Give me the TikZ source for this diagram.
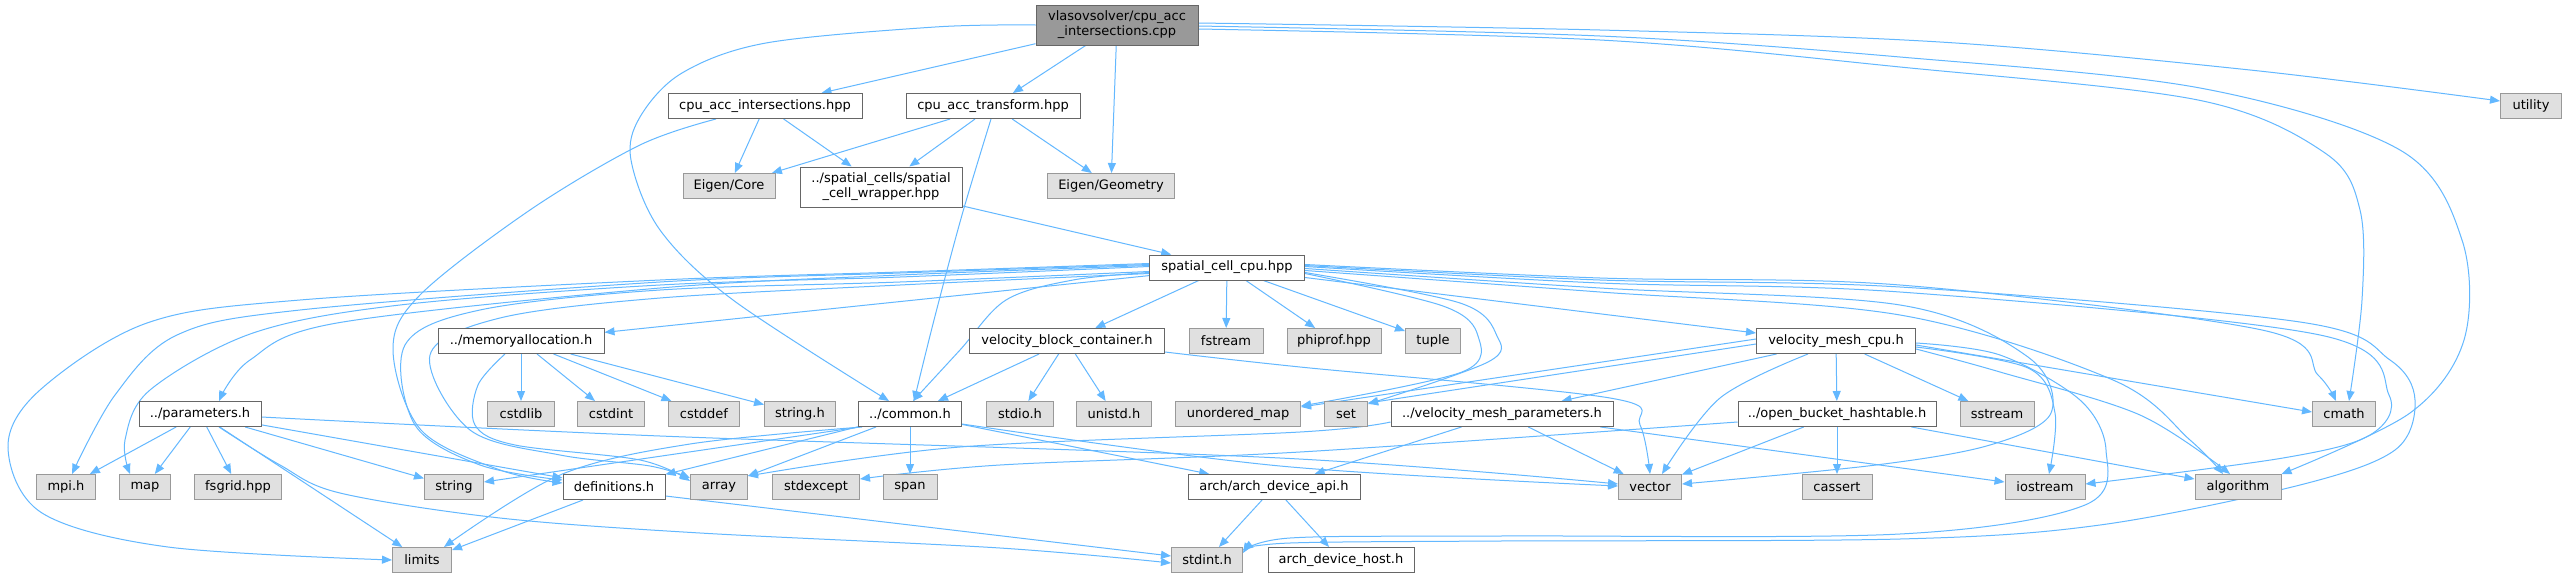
\documentclass[tikz,border=0pt]{standalone}
\usepackage{fontspec}
\newfontfamily\dvs{DejaVu Sans}
\usetikzlibrary{arrows.meta,calc}
\definecolor{edgec}{HTML}{63B8FF}
\definecolor{boxb}{HTML}{666666}
\definecolor{sysb}{HTML}{999999}
\definecolor{sysf}{HTML}{E0E0E0}
\definecolor{mainf}{HTML}{999999}
\pgfdeclarelayer{bg}
\pgfsetlayers{bg,main}
\tikzset{
  box/.style={draw=boxb, fill=white, line width=0.75pt, inner sep=0pt, minimum height=18.75pt,
    font=\dvs\fontsize{9.75}{11.25}\selectfont, text=black, align=center},
  sysbox/.style={box, draw=sysb, fill=sysf},
  mainbox/.style={box, draw=boxb, fill=mainf, minimum height=30pt},
  twoline/.style={minimum height=30pt},
  bw/.style={minimum width=#1*0.75pt},
  e/.style={draw=edgec, line width=0.75pt, -{Triangle[length=7.5pt,width=6pt]}}
}
\begin{document}
\begin{tikzpicture}[x=0.75pt,y=-0.75pt]
\useasboundingbox (0,0) rectangle (2567,579);
% nodes
\node[mainbox,bw=162] (m) at (1117,25) {vlasovsolver/cpu\_acc\\\_intersections.cpp};
\node[box,bw=194] (ih) at (765,106) {cpu\_acc\_intersections.hpp};
\node[box,bw=174] (th) at (993,106) {cpu\_acc\_transform.hpp};
\node[sysbox,bw=61] (ut) at (2531,106) {utility};
\node[sysbox,bw=92] (ec) at (729,186) {Eigen/Core};
\node[box,twoline,bw=162] (wr) at (881,187) {../spatial\_cells/spatial\\\_cell\_wrapper.hpp};
\node[sysbox,bw=127] (eg) at (1111,186) {Eigen/Geometry};
\node[box,bw=155] (sc) at (1227,267.5) {spatial\_cell\_cpu.hpp};
\node[box,bw=166] (ma) at (521,341) {../memoryallocation.h};
\node[box,bw=195] (vbc) at (1067,341) {velocity\_block\_container.h};
\node[sysbox,bw=74] (fs) at (1226,341) {fstream};
\node[sysbox,bw=94] (pp) at (1334,341) {phiprof.hpp};
\node[sysbox,bw=55] (tu) at (1433,341) {tuple};
\node[box,bw=159] (vmc) at (1836,341) {velocity\_mesh\_cpu.h};
\node[box,bw=122] (par) at (200,414) {../parameters.h};
\node[sysbox,bw=67] (csl) at (521,414) {cstdlib};
\node[sysbox,bw=67] (cst) at (611,414) {cstdint};
\node[sysbox,bw=71] (csd) at (704,414) {cstddef};
\node[sysbox,bw=71] (sth) at (800,414) {string.h};
\node[box,bw=103] (co) at (910,414) {../common.h};
\node[sysbox,bw=67] (sio) at (1020,414) {stdio.h};
\node[sysbox,bw=75] (uni) at (1114,414) {unistd.h};
\node[sysbox,bw=125] (um) at (1238,414) {unordered\_map};
\node[sysbox,bw=43] (se) at (1346,414) {set};
\node[box,bw=222] (vmp) at (1502,414) {../velocity\_mesh\_parameters.h};
\node[box,bw=198] (obh) at (1837,414) {../open\_bucket\_hashtable.h};
\node[sysbox,bw=74] (ss) at (1997,414) {sstream};
\node[sysbox,bw=63] (cm) at (2344,414) {cmath};
\node[sysbox,bw=59] (mpi) at (66,487) {mpi.h};
\node[sysbox,bw=51] (map) at (145,487) {map};
\node[sysbox,bw=87] (fsg) at (238,487) {fsgrid.hpp};
\node[sysbox,bw=59] (str) at (454,487) {string};
\node[box,bw=102] (def) at (614,487) {definitions.h};
\node[sysbox,bw=57] (arr) at (719,487) {array};
\node[sysbox,bw=87] (sx) at (816,487) {stdexcept};
\node[sysbox,bw=54] (sp) at (910,487) {span};
\node[box,bw=172] (ada) at (1274,487) {arch/arch\_device\_api.h};
\node[sysbox,bw=63] (vec) at (1650,487) {vector};
\node[sysbox,bw=70] (cas) at (1837,487) {cassert};
\node[sysbox,bw=80] (ios) at (2045,487) {iostream};
\node[sysbox,bw=86] (alg) at (2238,487) {algorithm};
\node[sysbox,bw=59] (lim) at (422,560) {limits};
\node[sysbox,bw=71] (sti) at (1207,560) {stdint.h};
\node[box,bw=146] (adh) at (1341,560) {arch\_device\_host.h};
% edges
\begin{pgfonlayer}{bg}
\fill[white] (0,0) rectangle (2567,579);
% main
\draw[e] (m) -- (ih);
\draw[e] (m) -- (th);
\draw[e] (m) -- (eg);
\draw[e] plot[smooth,tension=0.55] coordinates {($(m.east)+(0,-2)$) (1600,30) (1940,42) (2250,70) ($(ut.west)+(0,-5)$)};
\draw[e] plot[smooth,tension=0.55] coordinates {($(m.east)+(0,4)$) (1600,40) (1900,67) (2198,100) (2325,153) (2360,210) (2362,300) ($(cm.north)+(5,0)$)};
\draw[e] plot[smooth,tension=0.55] coordinates {($(m.east)+(0,1)$) (1600,36) (1900,57) (2200,88) (2400,150) (2462,240) (2464,340) (2410,413) (alg.north east)};
\draw[e] plot[smooth,tension=0.55] coordinates {(m.west) (935,27) (766,43) (682,73) (640,117) (631,160) (660,230) (733,300) ($(co.north)+(-21,0)$)};
% cpu_acc_intersections.hpp
\draw[e] (ih) -- (ec);
\draw[e] (ih) -- (wr);
\draw[e] plot[smooth,tension=0.55] coordinates {($(ih.south)+(-49,0)$) (640,145) (530,210) (420,295) (393,350) (421,430) (500,470) ($(def.west)+(0,-4)$)};
% cpu_acc_transform.hpp
\draw[e] (th) -- (ec);
\draw[e] (th) -- (wr);
\draw[e] (th) -- (eg);
\draw[e] plot[smooth,tension=0.55] coordinates {($(th.south)+(-2,0)$) (962,215) (934,320) ($(co.north)+(4,0)$)};
% wrapper
\draw[e] (wr) -- (sc);
% spatial_cell_cpu.hpp
\draw[e] (sc) -- (vbc);
\draw[e] (sc) -- (fs);
\draw[e] (sc) -- (pp);
\draw[e] (sc) -- (tu);
\draw[e] (sc) -- (ma);
\draw[e] plot[smooth,tension=0.55] coordinates {($(sc.west)+(0,5)$) (1073,280) (1006,300) (960,350) ($(co.north)+(3,0)$)};
\draw[e] plot[smooth,tension=0.55] coordinates {($(sc.west)+(0,-2)$) (900,275) (660,288) (337,323) (250,360) ($(par.north)+(19,0)$)};
\draw[e] plot[smooth,tension=0.55] coordinates {($(sc.west)+(0,-3)$) (900,273) (660,282) (300,310) (177,335) (115,395) ($(mpi.north)+(6,0)$)};
\draw[e] plot[smooth,tension=0.55] coordinates {($(sc.west)+(0,-1)$) (900,277) (660,285) (400,305) (253,333) (150,390) (125,440) ($(map.north)+(-15,0)$)};
\draw[e] plot[smooth,tension=0.55] coordinates {($(sc.west)+(0,-4)$) (900,272) (660,280) (300,300) (147,323) (40,390) (8,447) (42,513) (168,547) (lim.west)};
\draw[e] plot[smooth,tension=0.55] coordinates {($(sc.west)+(0,4)$) (900,282) (660,290) (480,310) (405,345) (415,425) (480,465) ($(def.west)+(0,-7)$)};
\draw[e] plot[smooth,tension=0.55] coordinates {($(sc.west)+(0,6)$) (900,285) (660,298) (500,318) (430,355) (470,430) (560,455) (650,466) ($(arr.west)+(0,-9)$)};
\draw[e] ($(sc.east)+(0,10)$) -- ($(vmc.west)+(0,-8)$);
\draw[e] plot[smooth,tension=0.55] coordinates {($(sc.east)+(0,6)$) (1443,306) (1478,336) (1462,372) ($(um.east)+(0,-8)$)};
\draw[e] plot[smooth,tension=0.55] coordinates {($(sc.east)+(0,5)$) (1460,303) (1497,336) (1488,362) ($(se.north east)+(0,3)$)};
\draw[e] plot[smooth,tension=0.55] coordinates {($(sc.east)+(0,1)$) (1600,288) (1900,305) (2028,357) (2051,413) (1990,445) (1876,465) ($(vec.east)+(0,-3)$)};
\draw[e] plot[smooth,tension=0.55] coordinates {($(sc.east)+(0,-3)$) (1600,278) (1900,285) (2262,330) (2318,375) ($(cm.north)+(-8,0)$)};
\draw[e] plot[smooth,tension=0.55] coordinates {($(sc.east)+(0,-2)$) (1600,280) (1900,287) (2300,322) (2390,360) (2415,400) (2395,450) (2300,485) (2100,525) (1900,539) (1500,541) (1290,543) ($(sti.east)+(0,-10)$)};
\draw[e] plot[smooth,tension=0.55] coordinates {($(sc.east)+(0,-1)$) (1600,283) (1900,292) (2320,335) (2389,395) (2370,435) (2283,458) ($(ios.east)+(0,-3)$)};
\draw[e] plot[smooth,tension=0.55] coordinates {($(sc.east)+(0,3)$) (1600,292) (1900,315) (2113,380) (2190,440) ($(alg.north)+(-15,0)$)};
% memoryallocation.h
\draw[e] (ma) -- (csl);
\draw[e] (ma) -- (cst);
\draw[e] (ma) -- (csd);
\draw[e] (ma) -- (sth);
\draw[e] plot[smooth,tension=0.55] coordinates {($(ma.south)+(-16,0)$) (478,385) (475,425) (515,445) (640,460) ($(arr.west)+(0,-6)$)};
% velocity_block_container.h
\draw[e] (vbc) -- (co);
\draw[e] (vbc) -- (sio);
\draw[e] (vbc) -- (uni);
\draw[e] plot[smooth,tension=0.55] coordinates {($(vbc.east)+(0,11)$) (1300,367) (1610,398) (1640,425) (vec.north)};
% velocity_mesh_cpu.h
\draw[e] ($(vmc.west)+(0,-2)$) -- ($(um.east)+(0,-7)$);
\draw[e] ($(vmc.west)+(0,3)$) -- ($(se.north east)+(0,2)$);
\draw[e] (vmc) -- (vmp);
\draw[e] plot[smooth,tension=0.55] coordinates {($(vmc.south)+(-28,0)$) (1720,398) ($(vec.north)+(12,0)$)};
\draw[e] (vmc) -- (obh);
\draw[e] (vmc) -- (ss);
\draw[e] ($(vmc.east)+(0,4)$) -- ($(cm.west)+(0,-2)$);
\draw[e] plot[smooth,tension=0.55] coordinates {($(vmc.east)+(0,6)$) (2028,368) (2055,413) ($(ios.north)+(4,0)$)};
\draw[e] plot[smooth,tension=0.55] coordinates {($(vmc.east)+(0,8)$) (2000,372) (2140,415) ($(alg.north)+(-8,0)$)};
\draw[e] plot[smooth,tension=0.55] coordinates {($(vmc.east)+(0,2)$) (2000,355) (2080,400) (2106,450) (2085,505) (1900,534) (1500,536) (1290,538) ($(sti.east)+(0,-7)$)};
% velocity_mesh_parameters.h
\draw[e] (vmp) -- (vec);
\draw[e] (vmp) -- (ada);
\draw[e] ($(vmp.south east)+(-13,0)$) -- ($(ios.west)+(0,-5)$);
\draw[e] plot[smooth,tension=0.55] coordinates {($(vmp.west)+(0,8)$) (1300,432) (960,447) ($(arr.north east)+(0,2)$)};
% open_bucket_hashtable.h
\draw[e] (obh) -- (vec);
\draw[e] (obh) -- (cas);
\draw[e] ($(obh.south east)+(-25,0)$) -- ($(alg.west)+(0,-8)$);
\draw[e] plot[smooth,tension=0.55] coordinates {($(obh.west)+(0,8)$) (1300,452) (1000,465) ($(sx.east)+(0,-8)$)};
% parameters.h
\draw[e] (par) -- (mpi);
\draw[e] (par) -- (map);
\draw[e] (par) -- (fsg);
\draw[e] (par) -- (lim);
\draw[e] (par) -- (str);
\draw[e] (par) -- (def);
\draw[e] plot[smooth,tension=0.55] coordinates {($(par.east)+(0,3)$) (660,436) (1280,458) ($(vec.west)+(0,-3)$)};
\draw[e] plot[smooth,tension=0.55] coordinates {($(par.south)+(19,0)$) (280,465) (340,493) (500,518) (700,533) (1000,548) ($(sti.west)+(0,3)$)};
% common.h
\draw[e] (co) -- (sp);
\draw[e] (co) -- (def);
\draw[e] (co) -- (arr);
\draw[e] (co) -- (ada);
\draw[e] ($(co.south west)+(2,0)$) -- ($(str.east)+(0,-5)$);
\draw[e] plot[smooth,tension=0.55] coordinates {($(co.south west)+(4,0)$) (690,444) (560,475) ($(lim.north east)+(-8,0)$)};
\draw[e] plot[smooth,tension=0.55] coordinates {($(co.east)+(0,10)$) (1280,466) ($(vec.west)+(0,-1)$)};
% definitions.h
\draw[e] ($(def.south)+(-31,0)$) -- ($(lim.north east)+(0,3)$);
\draw[e] ($(def.east)+(0,9)$) -- ($(sti.west)+(0,-4)$);
% arch_device_api.h
\draw[e] (ada) -- (sti);
\draw[e] (ada) -- (adh);
\end{pgfonlayer}
\end{tikzpicture}
\end{document}
